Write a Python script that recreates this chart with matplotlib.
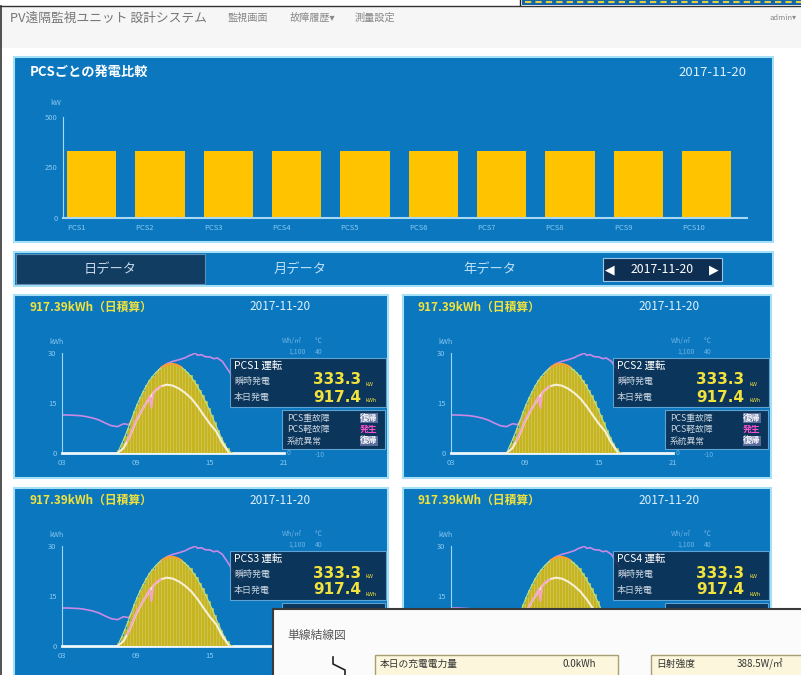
import matplotlib
matplotlib.use('Agg')
from matplotlib import pyplot as plt
from matplotlib.patches import Rectangle

plt.rcParams['font.family'] = ['Noto Sans CJK JP', 'DejaVu Sans']

W, H = 801, 675
BLUE = '#0a77bf'
GLOW = '#a6e0f6'
YELLOW = '#f2e23c'
TICK = '#8ccaf0'
# the single-line-diagram window that lies over the lower panels
OVER_X, OVER_Y = 273, 609

# --- data ---
pcs_names = ['PCS1', 'PCS2', 'PCS3', 'PCS4', 'PCS5',
             'PCS6', 'PCS7', 'PCS8', 'PCS9', 'PCS10']
pcs_kw = [333.3, 333.3, 333.3, 333.3, 333.3,
          333.3, 333.3, 333.3, 333.3, 333.3]
kw_ticks = [0, 250, 500]

hour_ticks = [3, 9, 15, 21]
hour_labels = ['03', '09', '15', '21']
kwh_ticks = [0, 15, 30]

# generation per 15 min (kWh)
gen_hours = [7.625, 7.875, 8.125, 8.375, 8.625, 8.875, 9.125, 9.375, 9.625, 9.875,
             10.125, 10.375, 10.625, 10.875, 11.125, 11.375, 11.625, 11.875, 12.125, 12.375,
             12.625, 12.875, 13.125, 13.375, 13.625, 13.875, 14.125, 14.375, 14.625, 14.875,
             15.125, 15.375, 15.625, 15.875, 16.125, 16.375, 16.625]
gen_kwh = [1.0, 3.0, 5.2, 7.5, 10.0, 12.5, 14.8, 16.8, 18.7, 20.4,
           21.9, 23.1, 24.2, 25.1, 25.8, 26.3, 26.6, 26.7, 26.6, 26.3,
           25.8, 25.1, 24.3, 23.3, 22.0, 20.6, 19.0, 17.3, 15.5, 13.5,
           11.4, 9.2, 7.0, 4.9, 3.0, 1.4, 0.4]

# irradiance (white line), drawn on the kWh scale
irr_hours = [7.5, 8.0, 8.5, 9.0, 9.5, 10.0, 10.5, 11.0, 11.5, 12.0,
             12.5, 13.0, 13.5, 14.0, 14.5, 15.0, 15.5, 16.0, 16.5]
irr_vals = [0.0, 1.5, 5.0, 9.5, 13.0, 16.0, 18.5, 20.0, 20.5, 20.2,
            19.3, 18.0, 16.3, 14.0, 11.3, 8.7, 6.5, 3.0, 0.3]

# pink part of the irradiance line
pink_hours = [8.3, 8.7, 9.1, 9.5, 9.9, 10.1, 10.25, 10.4, 10.7, 11.0]
pink_vals = [3.5, 7.0, 10.5, 13.0, 15.5, 17.0, 13.5, 18.0, 19.3, 20.0]

# temperature (purple line)
temp_hours = [3.0, 3.5, 4.0, 4.5, 5.0, 5.5, 6.0, 6.5, 7.0, 7.5, 8.0, 8.4, 9.0, 9.5,
              10.0, 10.5, 11.0, 11.5, 12.0, 12.5, 13.0, 13.3, 13.6, 13.8, 14.0, 14.3,
              14.6, 15.0, 15.3, 15.6, 16.0, 16.4, 16.8, 17.2, 17.6]
temp_vals = [11.4, 11.4, 11.3, 11.2, 10.9, 10.5, 9.9, 9.0, 8.2, 7.9, 8.8, 8.5, 11.5, 15.0,
             19.0, 22.5, 25.5, 26.8, 27.5, 28.0, 28.6, 29.2, 29.6, 30.0, 29.3, 29.5,
             28.9, 28.8, 28.3, 28.5, 27.5, 25.3, 23.0, 21.0, 19.5]

date_label = '2017-11-20'
total_label = '917.39kWh（日積算）'
now_kw = '333.3'
today_kwh = '917.4'
status_rows = [('PCS重故障', '復帰'), ('PCS軽故障', '発生'), ('系統異常', '復帰')]

fig = plt.figure(figsize=(W / 100, H / 100), dpi=100)
fig.patch.set_facecolor('white')


def px_axes(x0, y0, x1, y1, z=1):
    ax = fig.add_axes([x0 / W, 1 - y1 / H, (x1 - x0) / W, (y1 - y0) / H])
    ax.set_zorder(z)
    return ax


def canvas(z):
    ax = px_axes(0, 0, W, H, z)
    ax.set_xlim(0, W)
    ax.set_ylim(H, 0)
    ax.axis('off')
    return ax


def covered(x, y):
    # True when a point sits under the overlapping window
    return x > OVER_X - 2 and y > OVER_Y - 4


def put(ax, x, y, s, **kw):
    if not covered(x, y):
        ax.text(x, y, s, **kw)


bg = canvas(0)
mid = canvas(5)
top = canvas(10)

# window frame / header
bg.add_patch(Rectangle((522, 0), 279, 5, fc='#1565a8', ec='none'))
bg.plot([525, 801], [1.5, 1.5], color='#e0d040', lw=1.5, ls=(0, (3, 2)))
bg.plot([520, 520], [0, 5], color='#222', lw=1)
bg.add_patch(Rectangle((0, 5.5), W, 42, fc='#f6f6f6', ec='none'))
bg.plot([0, W], [5.5, 5.5], color='#333', lw=1)
bg.plot([1, 1], [5.5, H], color='#333', lw=1.2)
bg.text(10, 18, 'PV遠隔監視ユニット 設計システム', color='#777', fontsize=9.2, va='center')
bg.text(228, 18, '監視画面', color='#888', fontsize=7.3, va='center')
bg.text(290, 18, '故障履歴▾', color='#888', fontsize=7.3, va='center')
bg.text(355, 18, '測量設定', color='#888', fontsize=7.3, va='center')
bg.text(770, 18, 'admin▾', color='#888', fontsize=5.5, va='center')

# --- top panel: bar chart per PCS ---
bg.add_patch(Rectangle((14, 57), 759, 185, fc=BLUE, ec=GLOW, lw=1.5))
bg.text(30, 72, 'PCSごとの発電比較', color='white', fontsize=9.5, fontweight='bold', va='center')
bg.text(712, 72, date_label, color='#e0f0ff', fontsize=9.5, ha='center', va='center')
bg.text(50, 103, 'kW', color=TICK, fontsize=5.5, va='center')

bar_w = 0.72
ax = px_axes(63, 117, 747, 218)
ax.set_facecolor('none')
ax.bar(range(len(pcs_names)), pcs_kw, width=bar_w, color='#ffc300')
ax.set_xlim(-0.42, 9.59)
ax.set_ylim(0, 500)
# labels start at the left edge of each bar, like the original page
ax.set_xticks([i - bar_w / 2 for i in range(len(pcs_names))])
ax.set_xticklabels(pcs_names, ha='left')
ax.set_yticks(kw_ticks)
ax.set_yticklabels([str(v) for v in kw_ticks])
ax.tick_params(colors=TICK, labelsize=5.5, length=0, pad=4)
for s in ['top', 'right']:
    ax.spines[s].set_visible(False)
ax.spines['left'].set_color('#a8d8f4')
ax.spines['bottom'].set_color('#a8d8f4')
ax.spines['bottom'].set_linewidth(1.5)

# --- tab bar ---
bg.add_patch(Rectangle((14, 252), 759, 34, fc=BLUE, ec=GLOW, lw=1.5))
bg.add_patch(Rectangle((16, 254), 189, 30, fc='#123d62', ec='#5b8db5', lw=0.8))
bg.text(110, 269, '日データ', color='#c6d6e6', fontsize=9.5, ha='center', va='center')
bg.text(300, 269, '月データ', color='#c0e0f6', fontsize=9.5, ha='center', va='center')
bg.text(490, 269, '年データ', color='#c0e0f6', fontsize=9.5, ha='center', va='center')
bg.add_patch(Rectangle((603, 258), 119, 23, fc='#0f2f52', ec='#9cc6e6', lw=0.8))
bg.text(610, 269.5, '◀', color='white', fontsize=9, ha='center', va='center',
        family='DejaVu Sans')
bg.text(662, 269.5, date_label, color='white', fontsize=8.8, ha='center', va='center')
bg.text(714, 269.5, '▶', color='white', fontsize=9, ha='center', va='center',
        family='DejaVu Sans')


def day_panel(px, py, pw, ph, name):
    bg.add_patch(Rectangle((px, py), pw, ph, fc=BLUE, ec=GLOW, lw=1.5))
    bg.text(px + 15, py + 12, total_label, color=YELLOW, fontsize=8.5,
            fontweight='bold', va='center')
    bg.text(px + 266, py + 12, date_label, color='#dff0fb', fontsize=8.5,
            ha='center', va='center')

    axl, axr, axt, axb = px + 48, px + 270, py + 58, py + 158
    side = dict(color='#6cb4e4', fontsize=5, va='center')
    put(bg, axl - 13, axt - 11, 'kWh', color=TICK, fontsize=5, va='center')
    put(bg, axr - 2, axt - 12, 'Wh/㎡', **side)
    put(bg, axr + 31, axt - 12, '℃', **side)
    put(bg, axr + 13, axt - 1, '1,100', ha='center', **side)
    put(bg, axr + 31, axt - 1, '40', **side)
    put(bg, axr + 3, axb, '0', **side)
    put(bg, axr + 31, axb + 2, '-10', **side)

    ax = px_axes(axl, axt, axr, axb)
    ax.set_facecolor('none')
    ax.plot(temp_hours, temp_vals, color='#c98ae6', lw=1.2, zorder=2)
    ax.bar(gen_hours, gen_kwh, width=0.25, color='#c8b41e', edgecolor='#dccf5a',
           lw=0.4, zorder=3)
    ax.plot(gen_hours, gen_kwh, color='#b5e08a', lw=0.9, zorder=4)
    ax.plot(gen_hours[14:21], gen_kwh[14:21], color='#f5a030', lw=1.6, zorder=4)
    ax.plot(irr_hours, irr_vals, color='#f6f0d6', lw=1.5, zorder=5)
    ax.plot(pink_hours, pink_vals, color='#f4a6cc', lw=1.4, zorder=6)
    ax.set_xlim(3, 21)
    ax.set_ylim(0, 30)
    # tick labels that fall under the overlapping window are not visible
    ax.set_xticks(hour_ticks)
    ax.set_xticklabels([
        '' if covered(axl + (h - 3) / 18 * (axr - axl) - 8, axb + 8) else lab
        for h, lab in zip(hour_ticks, hour_labels)])
    ax.set_yticks(kwh_ticks)
    ax.set_yticklabels([
        '' if covered(axl - 8, axb - v / 30 * (axb - axt)) else str(v)
        for v in kwh_ticks])
    ax.tick_params(colors=TICK, labelsize=5.5, length=0, pad=4)
    for s in ['top', 'right']:
        ax.spines[s].set_visible(False)
    ax.spines['left'].set_color('#9fd4f5')
    ax.spines['left'].set_linewidth(0.8)
    ax.spines['bottom'].set_color('#eef7fc')
    ax.spines['bottom'].set_linewidth(2)

    # live value box
    bx, by = px + pw - 158, py + 63
    mid.add_patch(Rectangle((bx, by), 156, 49, fc='#0c2c4c', ec='#6aaedc', lw=0.8, alpha=0.88))
    mid.text(bx + 4, by + 8, name + ' 運転', color='white', fontsize=7.5, va='center')
    mid.text(bx + 4, by + 23, '瞬時発電', color='#c8d4e0', fontsize=6.5, va='center')
    mid.text(bx + 4, by + 39, '本日発電', color='#c8d4e0', fontsize=6.5, va='center')
    num = dict(color=YELLOW, fontsize=11, fontweight='bold', ha='right', va='center',
               family='DejaVu Sans')
    mid.text(bx + 131, by + 22, now_kw, **num)
    mid.text(bx + 131, by + 39, today_kwh, **num)
    mid.text(bx + 136, by + 26, 'kW', color=YELLOW, fontsize=4, va='center')
    mid.text(bx + 136, by + 43, 'kWh', color=YELLOW, fontsize=4, va='center')

    # alarm status box
    sx, sy = px + pw - 106, py + 115
    mid.add_patch(Rectangle((sx, sy), 103, 39, fc='#0c2c4c', ec='#6aaedc', lw=0.8, alpha=0.88))
    for i, (label, state) in enumerate(status_rows):
        yy = sy + 8 + i * 11.5
        if covered(sx, yy + 4):
            continue
        mid.text(sx + 5, yy, label, color='#c8d4e0', fontsize=6.3, va='center')
        if state == '発生':
            mid.text(sx + 78, yy, state, color='#ff4fd0', fontsize=6.3, fontweight='bold',
                     va='center')
        else:
            mid.text(sx + 78, yy, state, color='white', fontsize=6.3, fontweight='bold',
                     va='center', bbox=dict(boxstyle='square,pad=0.05', fc='#5a6c9c', ec='none'))


day_panel(14, 295, 374, 183, 'PCS1')
day_panel(403, 295, 368, 183, 'PCS2')
day_panel(14, 488, 374, 190, 'PCS3')
day_panel(403, 488, 368, 190, 'PCS4')

# --- overlapping single-line diagram window ---
top.add_patch(Rectangle((OVER_X, OVER_Y), 540, 80, fc='#fbfbfb', ec='#3a3a3a', lw=1.5))
top.text(287, 635, '単線結線図', color='#555', fontsize=8.5, va='center')
top.plot([333, 333, 345, 345], [657, 664, 670, 677], color='#222', lw=1.2)
top.add_patch(Rectangle((375, 655), 243, 30, fc='#fbf6dc', ec='#a8a070', lw=1))
top.text(380, 664, '本日の充電電力量', color='#333', fontsize=7, va='center')
top.text(596, 664, '0.0kWh', color='#333', fontsize=7, ha='right', va='center')
top.add_patch(Rectangle((651, 655), 200, 30, fc='#fbf6dc', ec='#a8a070', lw=1))
top.text(656, 664, '日射強度', color='#333', fontsize=7, va='center')
top.text(737, 664, '388.5W/㎡', color='#333', fontsize=7, va='center')

fig.savefig('out.png', dpi=100)
